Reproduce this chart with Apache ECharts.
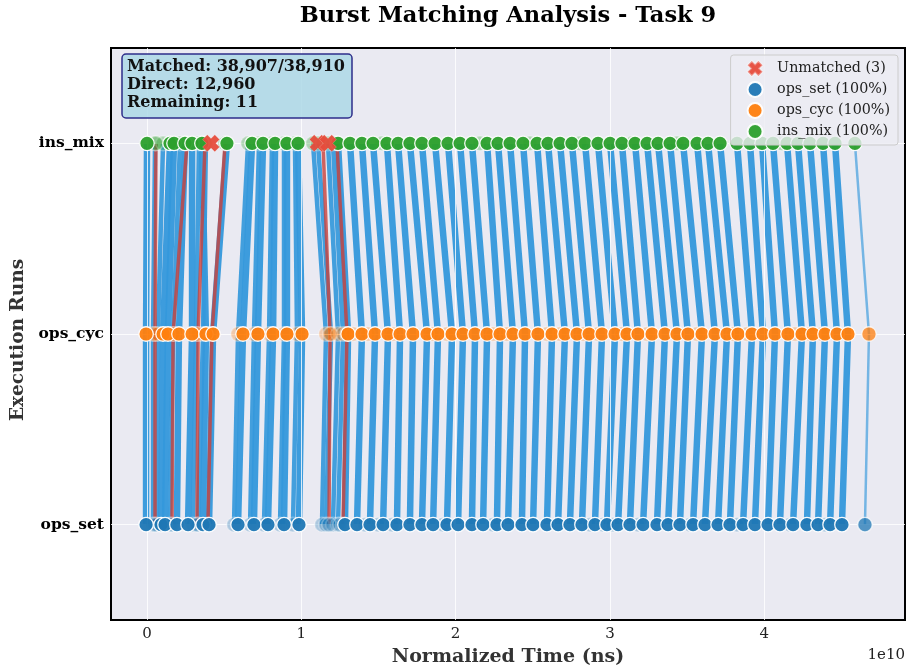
<!DOCTYPE html>
<html>
<head>
<meta charset="utf-8">
<script src="https://cdn.jsdelivr.net/npm/echarts@6/dist/echarts.min.js"></script>
<style>
  html, body { margin: 0; padding: 0; background: #ffffff; }
  #chart { width: 906px; height: 671px; }
</style>
</head>
<body>
<div id="chart"></div>
<script>
// ---- Data (x values in units of 1e10 ns) ----
const RUNS = ['ops_set', 'ops_cyc', 'ins_mix'];
const X_TICKS = [0, 1, 2, 3, 4];

// Matched bursts: one entry per burst, linked ops_set -> ops_cyc -> ins_mix
const matchedOpsSet = [-0.006, 0.091, 0.117, 0.194, 0.266, 0.363, 0.402,
  0.590, 0.693, 0.784, 0.888, 0.985,
  1.283, 1.361, 1.445, 1.530, 1.620, 1.704, 1.782, 1.854, 1.944, 2.016,
  2.106, 2.178, 2.268, 2.340, 2.430, 2.502, 2.592, 2.664, 2.741, 2.819,
  2.903, 2.981, 3.053, 3.130, 3.215, 3.305, 3.377, 3.454, 3.539, 3.616,
  3.701, 3.778, 3.863, 3.940, 4.025, 4.102, 4.187, 4.277, 4.349, 4.427,
  4.504, 4.653];
const matchedOpsCyc = [-0.006, 0.104, 0.136, 0.207, 0.292, 0.382, 0.428,
  0.622, 0.719, 0.817, 0.907, 1.005,
  1.303, 1.393, 1.478, 1.562, 1.640, 1.724, 1.815, 1.886, 1.977, 2.048,
  2.126, 2.204, 2.288, 2.372, 2.450, 2.534, 2.625, 2.709, 2.787, 2.865,
  2.949, 3.033, 3.111, 3.182, 3.273, 3.357, 3.435, 3.506, 3.597, 3.681,
  3.759, 3.830, 3.921, 3.992, 4.070, 4.154, 4.245, 4.316, 4.394, 4.472,
  4.543, 4.679];
const matchedInsMix = [0.000, 0.149, 0.175, 0.246, 0.292, 0.356, 0.518,
  0.681, 0.752, 0.830, 0.907, 0.979,
  1.238, 1.316, 1.393, 1.465, 1.555, 1.627, 1.704, 1.782, 1.867, 1.951,
  2.029, 2.106, 2.204, 2.275, 2.353, 2.437, 2.528, 2.599, 2.677, 2.754,
  2.839, 2.923, 3.001, 3.078, 3.163, 3.241, 3.312, 3.390, 3.474, 3.565,
  3.636, 3.714, 3.824, 3.908, 3.986, 4.057, 4.148, 4.219, 4.297, 4.381,
  4.459, 4.588];

// Minor (low-weight) matched bursts
const minorOpsSet = [0.039, 0.065, 0.149, 0.298, 0.331, 0.564, 0.668, 0.758, 0.862, 0.946, 1.134, 1.160, 1.205, 1.238];
const minorOpsCyc = [0.039, 0.071, 0.169, 0.318, 0.363, 0.590, 0.693, 0.791, 0.888, 0.972, 1.160, 1.193, 1.238, 1.270];
const minorInsMix = [0.052, 0.104, 0.214, 0.337, 0.382, 0.655, 0.726, 0.810, 0.888, 0.959, 1.076, 1.108, 1.173, 1.205];

// Reordered matches (drawn in red)
const reorderedOpsSet = [0.052, 0.162, 0.324, 0.395, 1.180, 1.270];
const reorderedOpsCyc = [0.052, 0.169, 0.331, 0.421, 1.186, 1.296];
const reorderedInsMix = [0.058, 0.259, 0.376, 0.506, 1.141, 1.231];

// Low-weight single bursts per run
const faintOpsSet = [1.251, 1.413, 1.497, 1.588, 1.918, 2.242, 2.502, 2.664, 2.871, 2.955, 3.020, 3.182, 3.519, 3.824, 4.167, 4.394];
const faintOpsCyc = [1.335, 1.432, 1.594, 1.847, 1.944, 2.242, 2.333, 2.592, 2.677, 2.826, 2.923, 3.078, 3.241, 3.565, 3.798, 3.889, 4.200, 4.297, 4.375];
const faintInsMix = [1.523, 1.854, 2.158, 2.482, 2.806, 3.143, 3.435, 4.115];

// Unmatched bursts (all in ins_mix)
const unmatchedInsMix = [0.415, 1.108, 1.173];

const MATCHED = 38907, TOTAL = 38910, DIRECT = 12960, REMAINING = 11;
const SET_PCT = 100, CYC_PCT = 100, MIX_PCT = 100;

// ---- Build ----
const fmt = n => n.toLocaleString('en-US');
const SERIF = 'DejaVu Serif';
const COLORS = { ops_set: '#1f77b4', ops_cyc: '#ff7f0e', ins_mix: '#2ca02c' };
const NAMES = {
  ops_set: `ops_set (${SET_PCT}%)`,
  ops_cyc: `ops_cyc (${CYC_PCT}%)`,
  ins_mix: `ins_mix (${MIX_PCT}%)`
};
const UNMATCHED_NAME = `Unmatched (${unmatchedInsMix.length})`;

function linkData(s, c, m) {
  return s.map((v, i) => ({ coords: [[v, 0], [c[i], 1], [m[i], 2]] }));
}
const lastIdx = matchedOpsSet.length - 1;
const mainLinks = linkData(matchedOpsSet, matchedOpsCyc, matchedInsMix).map((d, i) =>
  i === lastIdx ? Object.assign(d, { lineStyle: { width: 2.5, opacity: 0.65 } }) : d);

function pts(arr, y, fadeLast) {
  return arr.map((v, i) => (fadeLast && i === arr.length - 1)
    ? { value: [v, y], itemStyle: { opacity: 0.75 } } : [v, y]);
}

const series = [];
// grid lines (white) under everything
series.push({
  type: 'scatter', name: '_grid', data: [], z: 1, silent: true,
  markLine: {
    silent: true, symbol: ['none', 'none'], label: { show: false },
    lineStyle: { color: '#ffffff', width: 1, type: 'solid', opacity: 0.8 },
    data: X_TICKS.map(t => ({ xAxis: t })).concat(RUNS.map((r, i) => ({ yAxis: i })))
  }
});
series.push({
  type: 'lines', name: '_links', coordinateSystem: 'cartesian2d', polyline: true, z: 2,
  silent: true,
  lineStyle: { color: '#3498db', width: 6.5, opacity: 0.95 },
  data: mainLinks
});
series.push({
  type: 'lines', name: '_minorLinks', coordinateSystem: 'cartesian2d', polyline: true, z: 2,
  silent: true,
  lineStyle: { color: '#3498db', width: 4.5, opacity: 0.92 },
  data: linkData(minorOpsSet, minorOpsCyc, minorInsMix)
});
series.push({
  type: 'lines', name: '_reordered', coordinateSystem: 'cartesian2d', polyline: true, z: 3,
  silent: true,
  lineStyle: { color: '#c9403a', width: 3.5, opacity: 0.8 },
  data: linkData(reorderedOpsSet, reorderedOpsCyc, reorderedInsMix)
});

const runArrays = {
  ops_set: { main: matchedOpsSet, minor: minorOpsSet.concat(reorderedOpsSet), faint: faintOpsSet, y: 0 },
  ops_cyc: { main: matchedOpsCyc, minor: minorOpsCyc.concat(reorderedOpsCyc), faint: faintOpsCyc, y: 1 },
  ins_mix: { main: matchedInsMix, minor: minorInsMix.concat(reorderedInsMix), faint: faintInsMix, y: 2 }
};
// main markers first so legend takes their style
RUNS.forEach(r => {
  const a = runArrays[r];
  series.push({
    type: 'scatter', name: NAMES[r], z: 6, symbol: 'circle', symbolSize: 14.5,
    itemStyle: { color: COLORS[r], opacity: 0.95, borderColor: '#ffffff', borderWidth: 1.3 },
    data: pts(a.main, a.y, r !== 'ins_mix')
  });
});
RUNS.forEach(r => {
  const a = runArrays[r];
  series.push({
    type: 'scatter', name: NAMES[r], z: 5, symbol: 'circle', symbolSize: 14.5,
    itemStyle: { color: COLORS[r], opacity: 0.3, borderColor: '#ffffff', borderWidth: 1.6 },
    data: pts(a.minor.concat(a.faint), a.y, false)
  });
});
series.push({
  type: 'scatter', name: UNMATCHED_NAME, z: 7,
  symbol: 'path://M0,2.8 L2.8,0 L5,2.2 L7.2,0 L10,2.8 L7.8,5 L10,7.2 L7.2,10 L5,7.8 L2.8,10 L0,7.2 L2.2,5 Z',
  symbolSize: 17,
  itemStyle: { color: '#e74c3c', opacity: 0.95, borderColor: 'rgba(255,255,255,0.35)', borderWidth: 0.6 },
  data: pts(unmatchedInsMix, 2, false)
});

const GRID = { left: 111, top: 48, width: 794, height: 572 };
const PX_PER_UNIT = 154.3, ZERO_PX = 147;
const xMin = (GRID.left - ZERO_PX) / PX_PER_UNIT;
const xMax = (GRID.left + GRID.width - ZERO_PX) / PX_PER_UNIT;

const option = {
  animation: false,
  backgroundColor: '#ffffff',
  grid: Object.assign({ show: true, backgroundColor: '#eaeaf2', borderColor: '#000000', borderWidth: 2 }, GRID),
  xAxis: {
    type: 'value', min: xMin, max: xMax,
    axisLine: { show: false }, axisTick: { show: false }, splitLine: { show: false },
    axisLabel: {
      customValues: X_TICKS, margin: 7, color: '#222', fontFamily: SERIF, fontSize: 15,
      formatter: v => String(Math.round(v))
    }
  },
  yAxis: {
    type: 'value', min: -0.5, max: 2.5,
    axisLine: { show: false }, axisTick: { show: false }, splitLine: { show: false },
    axisLabel: {
      customValues: RUNS.map((r, i) => i), margin: 7, color: '#000', fontFamily: SERIF,
      fontSize: 15.5, fontWeight: 'bold', formatter: v => RUNS[Math.round(v)] || ''
    }
  },
  legend: {
    orient: 'vertical', right: 8, top: 55, z: 20,
    data: [UNMATCHED_NAME, NAMES.ops_set, NAMES.ops_cyc, NAMES.ins_mix],
    itemWidth: 34, itemHeight: 15, itemGap: 4,
    padding: [5, 8, 5, 16],
    backgroundColor: 'rgba(236,236,242,0.8)', borderColor: '#cccccc', borderWidth: 1, borderRadius: 3,
    textStyle: { fontFamily: SERIF, fontSize: 14.3, color: '#222' },
    selectedMode: false
  },
  graphic: [
    { type: 'text', x: 508, y: 16, z: 20,
      style: { text: 'Burst Matching Analysis - Task 9', font: `bold 22.5px "${SERIF}"`, fill: '#000',
        textAlign: 'center', textVerticalAlign: 'middle' } },
    { type: 'text', x: 508, y: 657, z: 20,
      style: { text: 'Normalized Time (ns)', font: `bold 19px "${SERIF}"`, fill: '#333',
        textAlign: 'center', textVerticalAlign: 'middle' } },
    { type: 'text', x: 18, y: 340, rotation: Math.PI / 2, z: 20,
      style: { text: 'Execution Runs', font: `bold 18.5px "${SERIF}"`, fill: '#333',
        textAlign: 'center', textVerticalAlign: 'middle' } },
    { type: 'text', x: 905, y: 655, z: 20,
      style: { text: '1e10', font: `15px "${SERIF}"`, fill: '#222',
        textAlign: 'right', textVerticalAlign: 'middle' } },
    { type: 'rect', x: 122, y: 54, z: 20,
      shape: { width: 230, height: 64, r: 4 },
      style: { fill: 'rgba(173,216,230,0.85)', stroke: '#2e2e8a', lineWidth: 1.5 } },
    { type: 'text', x: 127, y: 58, z: 21,
      style: {
        text: `Matched: ${fmt(MATCHED)}/${fmt(TOTAL)}\nDirect: ${fmt(DIRECT)}\nRemaining: ${fmt(REMAINING)}`,
        font: `bold 16px "${SERIF}"`, fill: '#111', lineHeight: 18, textAlign: 'left', textVerticalAlign: 'top' } }
  ],
  series: series
};

const chart = echarts.init(document.getElementById('chart'), null, { renderer: 'canvas' });
chart.setOption(option);
</script>
</body>
</html>
